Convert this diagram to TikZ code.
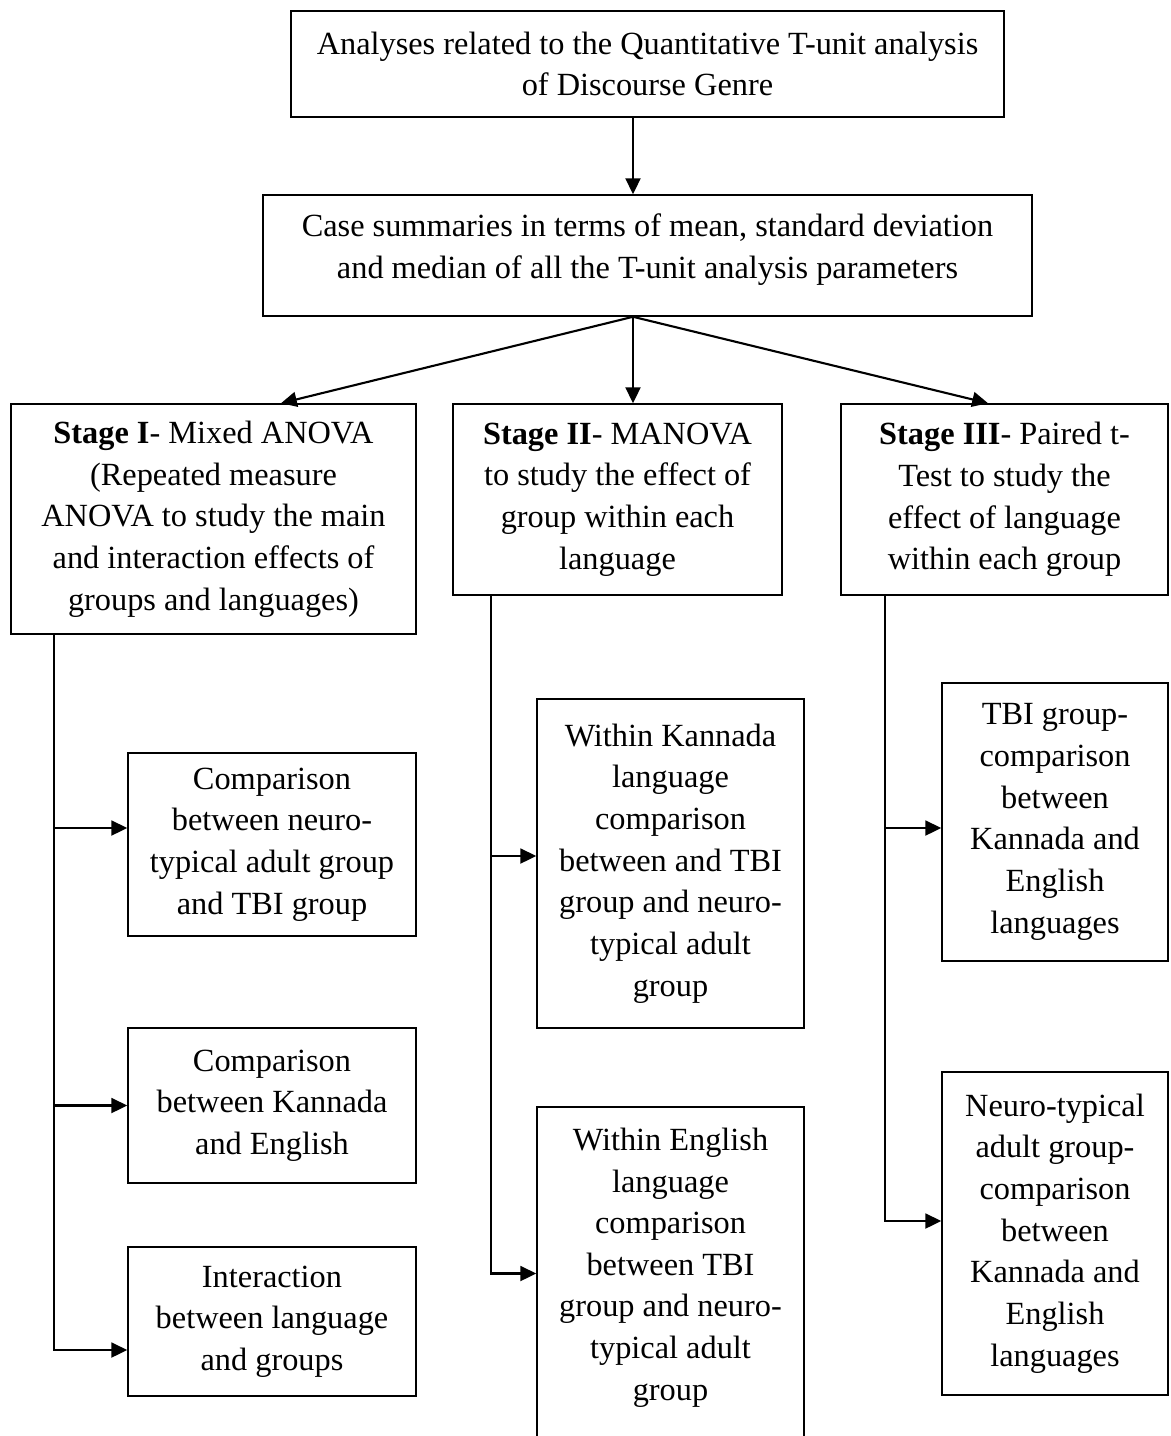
\documentclass[tikz,border=0pt]{standalone}
\usepackage{fontspec}
\setmainfont{Liberation Serif}
\usetikzlibrary{arrows.meta}

\tikzset{
  box/.style={draw, line width=0.9pt, align=center, inner sep=0pt, font=\fontsize{18.4}{23.7}\selectfont},
  arr/.style={line width=1.2pt, -{Triangle[length=9pt, width=8.5pt]}}
}

\begin{document}
\begin{tikzpicture}
\useasboundingbox (0,0) rectangle (23.42,-28.72);

% Top boxes
\node[box, minimum width=14.26cm, minimum height=2.12cm] (analyses) at (12.95,-1.28) {Analyses related to the Quantitative T-unit analysis\\of Discourse Genre};
\node[box, minimum width=15.38cm, minimum height=2.42cm] (summaries) at (12.95,-5.11) {Case summaries in terms of mean, standard deviation\\and median of all the T-unit analysis parameters\\[-13pt]\mbox{}};

% The three stages
\node[box, minimum width=8.10cm, minimum height=4.60cm] (stageI) at (4.27,-10.38) {\textbf{Stage I}- Mixed ANOVA\\(Repeated measure\\ANOVA to study the main\\and interaction effects of\\groups and languages)};
\node[box, minimum width=6.58cm, minimum height=3.82cm] (stageII) at (12.35,-9.99) {\textbf{Stage II}- MANOVA\\to study the effect of\\group within each\\language};
\node[box, minimum width=6.54cm, minimum height=3.82cm] (stageIII) at (20.09,-9.99) {\textbf{Stage III}- Paired t-\\Test to study the\\effect of language\\within each group};

% Stage I comparisons
\node[box, minimum width=5.76cm, minimum height=3.66cm] (groupcmp) at (5.44,-16.89) {Comparison\\between neuro-\\typical adult group\\and TBI group};
\node[box, minimum width=5.76cm, minimum height=3.10cm] (langcmp) at (5.44,-22.11) {Comparison\\between Kannada\\and English};
\node[box, minimum width=5.76cm, minimum height=2.98cm] (interaction) at (5.44,-26.43) {Interaction\\between language\\and groups};

% Stage II comparisons
\node[box, minimum width=5.34cm, minimum height=6.58cm] (kannada) at (13.41,-17.27) {Within Kannada\\language\\comparison\\between and TBI\\group and neuro-\\typical adult\\group};
\node[box, minimum width=5.34cm, minimum height=6.66cm] (english) at (13.41,-25.47) {Within English\\language\\comparison\\between TBI\\group and neuro-\\typical adult\\group\\[-13pt]\mbox{}};

% Stage III comparisons
\node[box, minimum width=4.52cm, minimum height=5.56cm] (tbi) at (21.10,-16.44) {TBI group-\\comparison\\between\\Kannada and\\English\\languages};
\node[box, minimum width=4.52cm, minimum height=6.46cm] (neuro) at (21.10,-24.67) {Neuro-typical\\adult group-\\comparison\\between\\Kannada and\\English\\languages};

% Arrows from the top
\draw[arr] ([xshift=-0.29cm]analyses.south) -- ([xshift=-0.29cm]summaries.north);
\draw[arr] ([xshift=-0.29cm]summaries.south) -- ([xshift=1.35cm]stageI.north);
\draw[arr] ([xshift=-0.29cm]summaries.south) -- ([xshift=0.31cm]stageII.north);
\draw[arr] ([xshift=-0.29cm]summaries.south) -- ([xshift=-0.33cm]stageIII.north);

% Stage I branch
\coordinate (trunkI) at ([xshift=0.88cm]stageI.south west);
\coordinate (inIa) at ([yshift=0.33cm]groupcmp.west);
\coordinate (inIb) at (langcmp.west);
\coordinate (inIc) at ([yshift=-0.57cm]interaction.west);
\draw[arr] (trunkI) |- (inIc);
\draw[arr] (inIa -| trunkI) -- (inIa);
\draw[arr] (inIb -| trunkI) -- (inIb);

% Stage II branch
\coordinate (trunkII) at ([xshift=0.78cm]stageII.south west);
\coordinate (inIIa) at ([yshift=0.15cm]kannada.west);
\draw[arr] (trunkII) |- (english.west);
\draw[arr] (inIIa -| trunkII) -- (inIIa);

% Stage III branch
\coordinate (trunkIII) at ([xshift=0.90cm]stageIII.south west);
\coordinate (inIIIa) at ([yshift=-0.12cm]tbi.west);
\coordinate (inIIIb) at ([yshift=0.25cm]neuro.west);
\draw[arr] (trunkIII) |- (inIIIb);
\draw[arr] (inIIIa -| trunkIII) -- (inIIIa);
\end{tikzpicture}
\end{document}
